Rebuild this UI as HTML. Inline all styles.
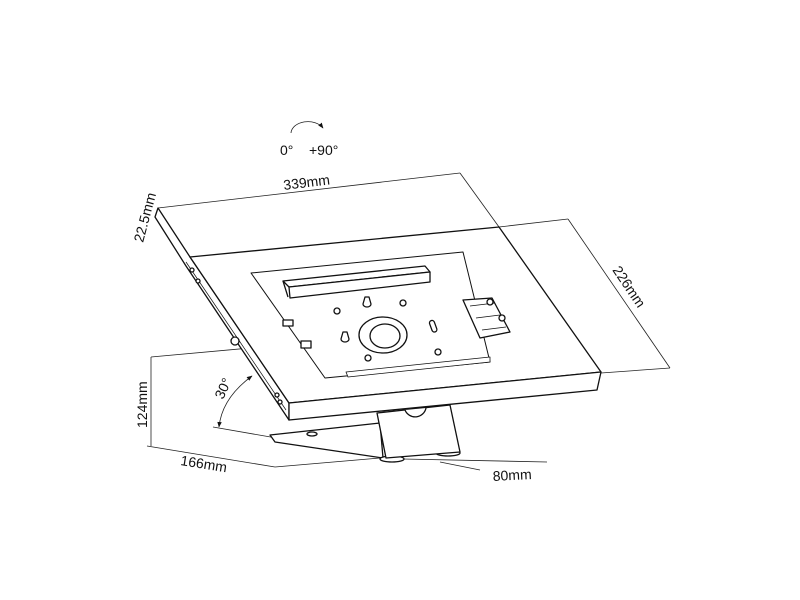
<!DOCTYPE html>
<html><head><style>
html,body{margin:0;padding:0;background:#fff;}
svg{display:block;}
text{font-family:"Liberation Sans",sans-serif;font-size:14px;fill:#111;}
</style></head><body>
<svg width="800" height="600" viewBox="0 0 800 600" xmlns="http://www.w3.org/2000/svg">
<defs>
<marker id="ah" viewBox="0 0 10 10" refX="9" refY="5" markerWidth="7" markerHeight="7" orient="auto-start-reverse"><path d="M0,1 L10,5 L0,9 z" fill="#111"/></marker>
</defs>
<g fill="none" stroke="#222" stroke-width="0.8">
<path d="M291,133 A17,12 0 0 1 323,128" marker-end="url(#ah)"/>
<line x1="158" y1="208" x2="460" y2="173"/>
<line x1="460" y1="173" x2="499" y2="227"/>
<line x1="499" y1="227" x2="568" y2="219"/>
<line x1="568" y1="219" x2="670" y2="368"/>
<line x1="601" y1="373" x2="670" y2="368"/>
<line x1="151" y1="357" x2="316" y2="342"/>
<line x1="151" y1="357" x2="151" y2="446"/>
<line x1="147" y1="446" x2="275" y2="467"/>
<line x1="213" y1="427" x2="380" y2="456"/>
<line x1="403" y1="459" x2="547" y2="462"/>
<line x1="275" y1="467" x2="380" y2="458"/>
<line x1="440" y1="462" x2="480" y2="470"/>
<path d="M252,376 Q222,398 219,427" marker-start="url(#ah)" marker-end="url(#ah)"/>
</g>
<g fill="#fff" stroke="#111" stroke-width="1.3" stroke-linejoin="round">
<path d="M270,435 L380,423 L383,458 L275,442 Z"/>
<ellipse cx="312" cy="434" rx="5" ry="2"/>
<ellipse cx="392" cy="459" rx="12" ry="3"/>
<ellipse cx="448" cy="453" rx="12" ry="3"/>
<path d="M377,413 L450,405 L460,452 L386,458 Z"/>
<path d="M405,410 A11,11 0 0 0 426,408"/>
<path d="M158,208 L190,257 L289,403 L289,420 L186,266 L155,217 Z"/>
<path d="M190,257 L499,227 L601,372 L289,403 Z"/>
<path d="M289,403 L601,372 L597,390 L289,420 Z"/>
<line x1="186" y1="262" x2="286" y2="410" stroke-width="0.7"/>
<path d="M251,273 L463,252 L490,362 L325,378 Z" stroke-width="1"/>
<path d="M283,281 L425,266 L430,272 L289,287 Z"/>
<path d="M289,287 L430,272 L430,282 L290,298 Z"/>
<line x1="283" y1="281" x2="288" y2="297"/>
<path d="M346,372 L490,357 L490,362 L348,377 Z" stroke-width="0.8"/>
<ellipse cx="383" cy="335" rx="24" ry="18"/>
<ellipse cx="385" cy="336" rx="15" ry="12"/>
<circle cx="337" cy="311" r="3"/>
<circle cx="403" cy="303" r="3"/>
<circle cx="368" cy="358" r="3"/>
<circle cx="438" cy="352" r="3"/>
<path d="M365,297 L369,297 L371,304 A4,3 0 1 1 363,304 Z"/>
<path d="M343,332 L347,332 L349,339 A4,3 0 1 1 341,339 Z"/>
<rect x="431" y="320" width="5" height="12" rx="2.5" transform="rotate(-20 434 327)"/>
<path d="M463,300 L492,298 L510,332 L480,338 Z"/>
<path d="M470,306 L495,303 M476,318 L500,315 M482,330 L506,327" stroke-width="0.8"/>
<circle cx="490" cy="302" r="3"/><circle cx="502" cy="318" r="3"/>
<rect x="283" y="320" width="10" height="6"/>
<rect x="301" y="341" width="10" height="7"/>
<circle cx="192" cy="270" r="2"/><circle cx="198" cy="281" r="2"/>
<circle cx="235" cy="341" r="4"/>
<circle cx="277" cy="395" r="2"/><circle cx="280" cy="402" r="2"/>
</g>
<text x="280" y="155">0°</text>
<text x="309" y="155">+90°</text>
<text transform="translate(284,190) rotate(-7)">339mm</text>
<text transform="translate(143,243) rotate(-75)">22.5mm</text>
<text transform="translate(612,270) rotate(56)">226mm</text>
<text transform="translate(147,428) rotate(-90)">124mm</text>
<text transform="translate(180,465) rotate(9)">166mm</text>
<text transform="translate(493,481) rotate(-3)">80mm</text>
<text transform="translate(223,400) rotate(-65)">30°</text>
</svg>
</body></html>
